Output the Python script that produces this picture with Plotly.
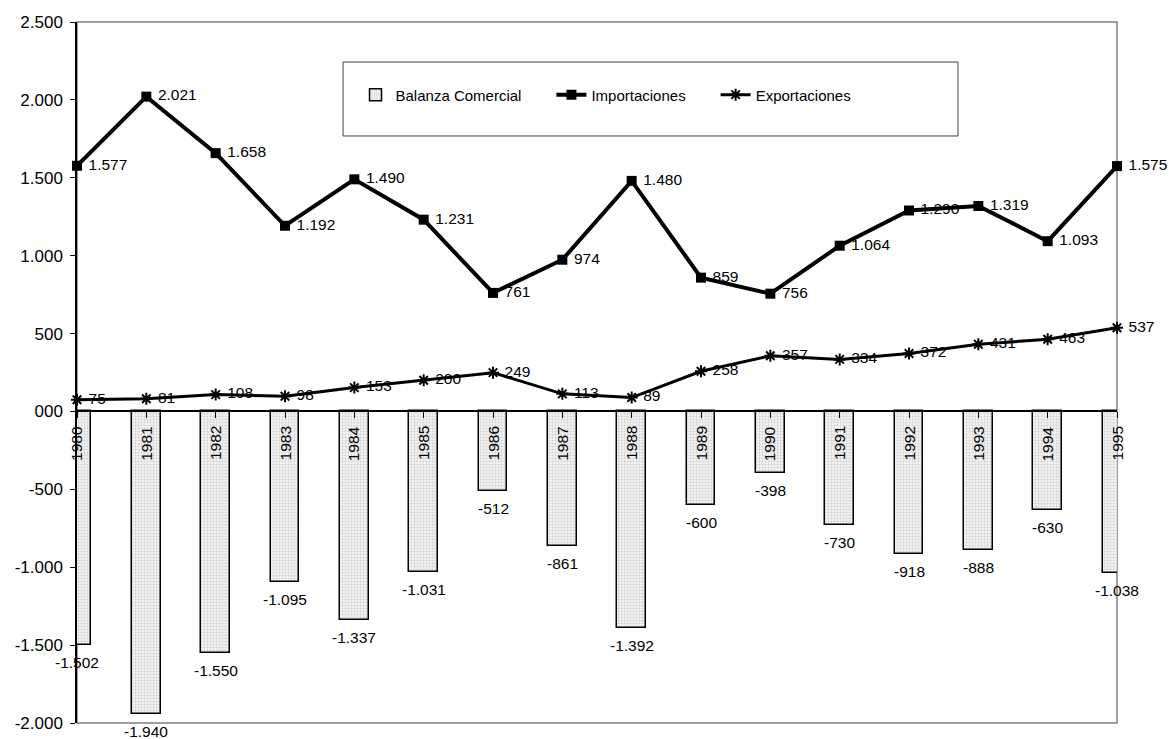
import plotly.graph_objects as go

# Años y series (millones)
years = list(range(1980, 1996))
importaciones = [1577, 2021, 1658, 1192, 1490, 1231, 761, 974, 1480, 859, 756, 1064, 1290, 1319, 1093, 1575]
exportaciones = [75, 81, 108, 98, 153, 200, 249, 113, 89, 258, 357, 334, 372, 431, 463, 537]
balanza = [-1502, -1940, -1550, -1095, -1337, -1031, -512, -861, -1392, -600, -398, -730, -918, -888, -630, -1038]

y_tickvals = [-2000, -1500, -1000, -500, 0, 500, 1000, 1500, 2000, 2500]
y_ticktext = ["-2.000", "-1.500", "-1.000", "-500", "000", "500", "1.000", "1.500", "2.000", "2.500"]

FONT = "Liberation Sans, Arial, sans-serif"
FS = 15.5
NB = "\u00a0"


def fmt(v):
    return f"{v:,}".replace(",", ".")


fig = go.Figure()

fig.add_trace(go.Bar(
    x=years, y=balanza, name="Balanza Comercial" + NB * 6, width=0.41,
    marker=dict(
        color="#f2f2f2",
        line=dict(color="black", width=1.5),
        pattern=dict(shape=".", fgcolor="#a8a8a8", bgcolor="#f4f4f4", size=3, solidity=0.35),
    ),
    hoverinfo="skip",
))

fig.add_trace(go.Scatter(
    x=years, y=importaciones, name="Importaciones" + NB * 6, mode="lines+markers+text",
    line=dict(color="black", width=4),
    marker=dict(symbol="square", size=10, color="black"),
    text=[NB + fmt(v) for v in importaciones], textposition="middle right",
    textfont=dict(family=FONT, size=FS, color="black"),
    cliponaxis=False,
))

fig.add_trace(go.Scatter(
    x=years, y=exportaciones, name="Exportaciones", mode="lines+markers+text",
    line=dict(color="black", width=3),
    marker=dict(symbol="asterisk-open", size=10, color="black", line=dict(color="black", width=2)),
    text=[NB + fmt(v) for v in exportaciones], textposition="middle right",
    textfont=dict(family=FONT, size=FS, color="black"),
    cliponaxis=False,
))

annotations = []
# valores de la balanza bajo cada barra
for yr, v in zip(years, balanza):
    annotations.append(dict(
        x=yr, y=v, xref="x", yref="y", text=fmt(v), showarrow=False,
        yanchor="top", xanchor="center", yshift=-7,
        font=dict(family=FONT, size=FS, color="black"),
    ))
# años en vertical bajo el eje cero
for yr in years:
    annotations.append(dict(
        x=yr, y=0, xref="x", yref="y", text=str(yr), showarrow=False,
        textangle=-90, yanchor="top", xanchor="center", yshift=-13,
        font=dict(family=FONT, size=FS, color="black"),
    ))

fig.update_layout(
    width=1169, height=739,
    margin=dict(l=77, r=52, t=22, b=16, autoexpand=False),
    paper_bgcolor="white", plot_bgcolor="white",
    separators=",.",
    font=dict(family=FONT, size=FS, color="black"),
    showlegend=True,
    legend=dict(
        orientation="h", x=0.2678, y=0.896, xanchor="left", yanchor="middle",
        bgcolor="rgba(0,0,0,0)", borderwidth=0,
        font=dict(family=FONT, size=15, color="black"),
        itemclick=False,
    ),
    annotations=annotations,
    shapes=[
        # marco del área de trazado
        dict(type="rect", xref="paper", yref="paper", x0=0, x1=1, y0=0, y1=1,
             line=dict(color="#808080", width=1.5), layer="below"),
        # recuadro de la leyenda
        dict(type="rect", xref="paper", yref="paper", x0=0.2558, x1=0.8471, y0=0.8374, y1=0.9429,
             line=dict(color="#404040", width=1), layer="above"),
    ],
    xaxis=dict(
        range=[1980, 1995], showgrid=False, zeroline=False,
        showticklabels=False, tickvals=years, automargin=False,
        ticks="outside", ticklen=6, tickcolor="black", tickwidth=1,
        showline=True, linecolor="black", linewidth=1.5,
        anchor="free", position=2000 / 4500,
    ),
    yaxis=dict(
        range=[-2000, 2500], showgrid=False, zeroline=False, automargin=False,
        tickvals=y_tickvals, ticktext=y_ticktext,
        ticks="outside", ticklen=5, tickcolor="black", tickwidth=1,
        ticklabelstandoff=4,
        showline=True, linecolor="black", linewidth=1.5,
        tickfont=dict(family=FONT, size=17, color="black"),
    ),
    bargap=0,
)

fig.write_html("out.html")
